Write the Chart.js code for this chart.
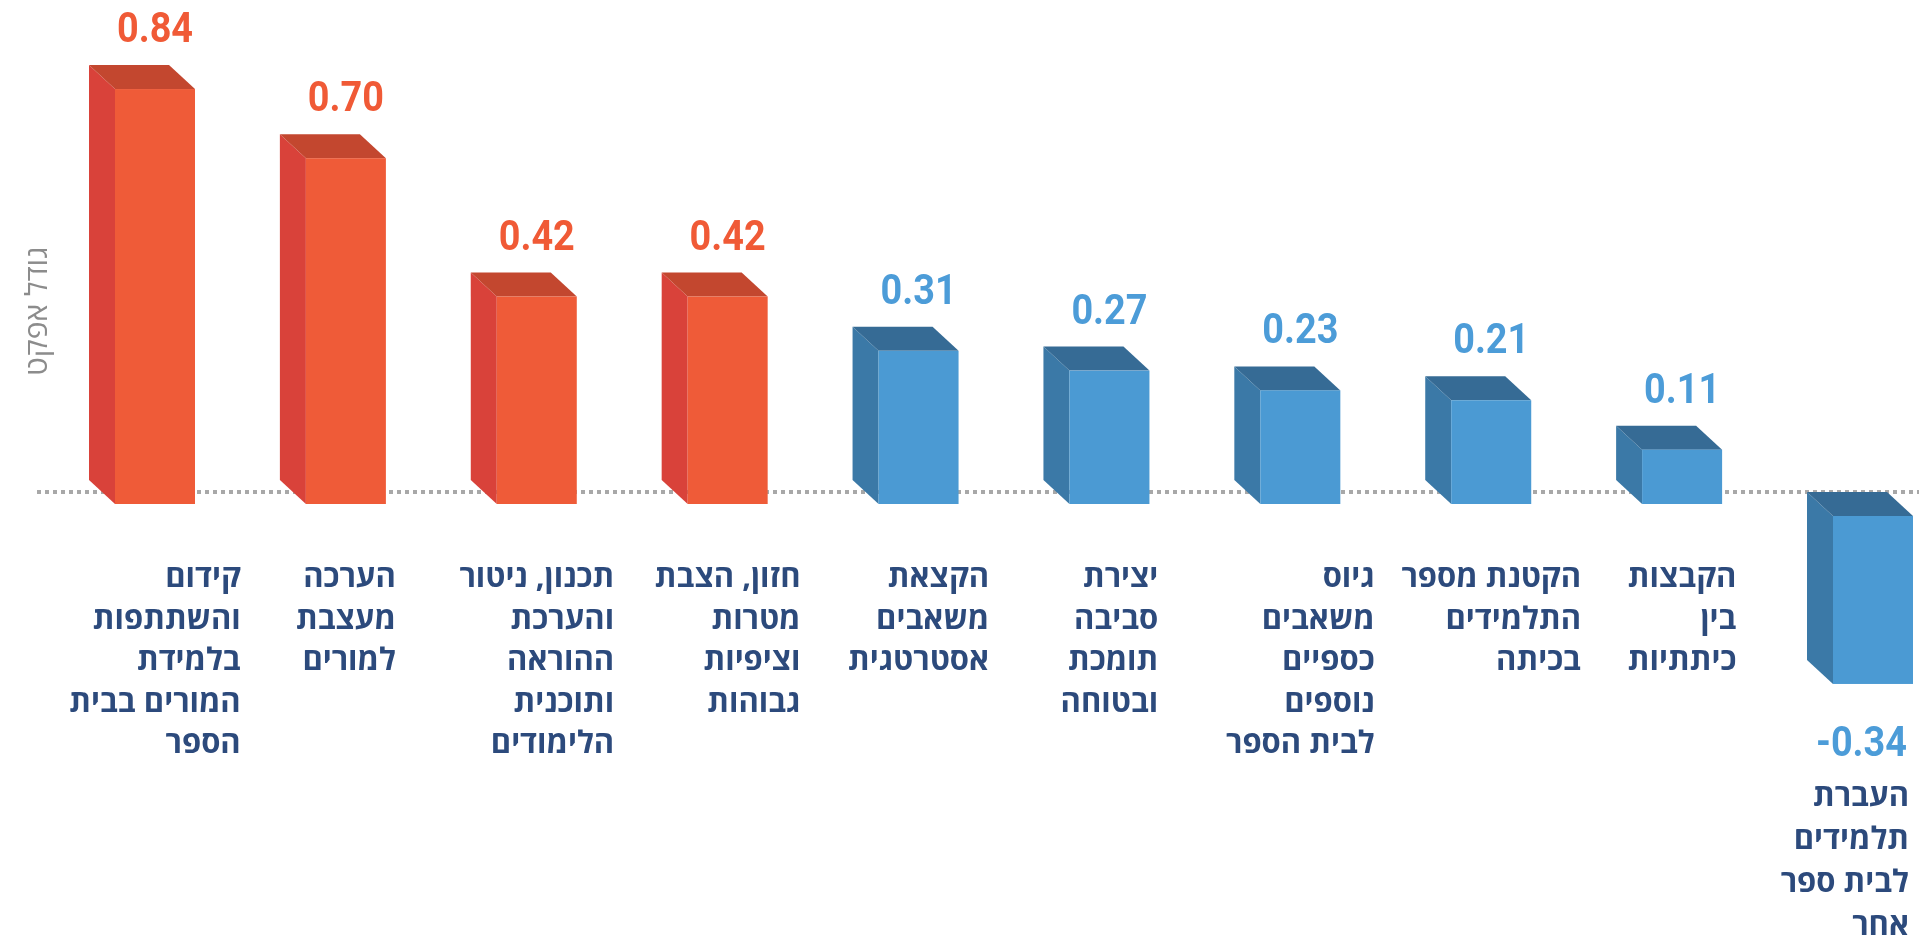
<!DOCTYPE html>
<html lang="he">
<head>
<meta charset="utf-8">
<script src="https://cdn.jsdelivr.net/npm/chart.js@4.4.1/dist/chart.umd.min.js"></script>
<style>
  html, body { margin: 0; padding: 0; background: #fff; }
  #wrap { width: 1919px; height: 944px; }
</style>
</head>
<body>
<div id="wrap"><canvas id="chart" width="1919" height="944"></canvas></div>
<script>
// data
const categories = [
  ['קידום', 'והשתתפות', 'בלמידת', 'המורים בבית', 'הספר'],
  ['הערכה', 'מעצבת', 'למורים'],
  ['תכנון, ניטור', 'והערכת', 'ההוראה', 'ותוכנית', 'הלימודים'],
  ['חזון, הצבת', 'מטרות', 'וציפיות', 'גבוהות'],
  ['הקצאת', 'משאבים', 'אסטרטגית'],
  ['יצירת', 'סביבה', 'תומכת', 'ובטוחה'],
  ['גיוס', 'משאבים', 'כספיים', 'נוספים', 'לבית הספר'],
  ['הקטנת מספר', 'התלמידים', 'בכיתה'],
  ['הקבצות', 'בין', 'כיתתיות'],
  ['העברת', 'תלמידים', 'לבית ספר', 'אחר'],
];
const effectSizes = [0.84, 0.70, 0.42, 0.42, 0.31, 0.27, 0.23, 0.21, 0.11, -0.34];
const hingePoint = 0.4;   // bars above this are drawn warm
const axisTitle = 'גודל אפקט';

// look
const DX = 26, DY = 24;
const palette = {
  warm: { front: '#EF5B38', side: '#D9423A', top: '#C3472F', text: '#F05A36' },
  cool: { front: '#4B9AD3', side: '#3B79A7', top: '#366B95', text: '#4C9CD8' },
};
const labelFont = 'bold 31px "Open Sans", "Liberation Sans", "DejaVu Sans", sans-serif';
const valueFont = 'bold 43px Roboto, "Liberation Sans", sans-serif';
const valueSquash = 0.88;
const titleFont = '30px "Open Sans", "Liberation Sans", "DejaVu Sans", sans-serif';

const tone = v => (v >= hingePoint ? palette.warm : palette.cool);

// fake 3D boxes + labels, drawn from the bar elements
const box3d = {
  id: 'box3d',
  beforeDatasetsDraw(chart) {
    const { ctx, scales } = chart;
    const zero = scales.y.getPixelForValue(0);
    ctx.save();
    ctx.strokeStyle = '#a8a8a8';
    ctx.lineWidth = 4;
    ctx.setLineDash([4, 4]);
    ctx.beginPath();
    ctx.moveTo(37, zero - DY / 2);
    ctx.lineTo(chart.width, zero - DY / 2);
    ctx.stroke();
    ctx.restore();

    // y title
    ctx.save();
    ctx.translate(38, scales.y.getPixelForValue(0.39));
    ctx.rotate(-Math.PI / 2);
    ctx.font = titleFont;
    ctx.fillStyle = '#8c8c8c';
    ctx.textAlign = 'center';
    ctx.textBaseline = 'middle';
    ctx.direction = 'rtl';
    ctx.fillText(axisTitle, 0, 0);
    ctx.restore();
  },
  beforeDatasetDraw() { return false; },
  afterDatasetsDraw(chart) {
    const { ctx, scales } = chart;
    const zero = scales.y.getPixelForValue(0);
    ctx.save();
    chart.getDatasetMeta(0).data.forEach((bar, i) => {
      const v = effectSizes[i];
      const c = tone(v);
      const { x, y, base, width } = bar.getProps(['x', 'y', 'base', 'width'], true);
      const shift = v < 0 ? DY / 2 : 0;
      const top = Math.min(y, base) + shift, bottom = Math.max(y, base) + shift;
      const l = x - width / 2, r = x + width / 2;

      ctx.fillStyle = c.side;
      ctx.beginPath();
      ctx.moveTo(l, top); ctx.lineTo(l - DX, top - DY);
      ctx.lineTo(l - DX, bottom - DY); ctx.lineTo(l, bottom);
      ctx.closePath(); ctx.fill();

      ctx.fillStyle = c.top;
      ctx.beginPath();
      ctx.moveTo(l, top); ctx.lineTo(l - DX, top - DY);
      ctx.lineTo(r - DX, top - DY); ctx.lineTo(r, top);
      ctx.closePath(); ctx.fill();

      ctx.fillStyle = c.front;
      ctx.fillRect(l, top, width, bottom - top);

      // value (slightly condensed)
      const txt = v.toFixed(2);
      ctx.font = valueFont;
      ctx.fillStyle = c.text;
      ctx.textAlign = 'center';
      ctx.textBaseline = 'alphabetic';
      ctx.direction = 'ltr';
      const tw = ctx.measureText(txt).width * valueSquash;
      const cx = Math.min(x, chart.width - 12 - tw / 2);
      const vy = v >= 0 ? top - 62 : bottom + 57;
      ctx.save();
      ctx.translate(cx, vy + 15);
      ctx.scale(valueSquash, 1);
      ctx.fillText(txt, 0, 0);
      ctx.restore();

      // category, right aligned block centred under the bar
      const lines = categories[i];
      ctx.font = labelFont;
      ctx.fillStyle = '#2C4A7C';
      ctx.direction = 'rtl';
      ctx.textAlign = 'right';
      const w = Math.max(...lines.map(s => ctx.measureText(s).width));
      const rx = Math.min(x + w / 2, chart.width - 10);
      const y0 = v >= 0 ? zero + 83 : bottom + 122;
      const step = v >= 0 ? 41.6 : 43;
      lines.forEach((s, k) => ctx.fillText(s, rx, y0 + k * step));
    });
    ctx.restore();
  },
};

new Chart(document.getElementById('chart'), {
  type: 'bar',
  data: {
    labels: categories,
    datasets: [{
      data: effectSizes,
      backgroundColor: effectSizes.map(v => tone(v).front),
      barThickness: 80,
      clip: false,
    }],
  },
  options: {
    responsive: false,
    animation: false,
    devicePixelRatio: 1,
    layout: { padding: { left: 155, right: 46, top: 10, bottom: 193 } },
    scales: {
      x: { type: 'category', offset: false, display: false },
      y: { display: false, min: -0.5, max: 1.0 },
    },
    plugins: { legend: { display: false }, tooltip: { enabled: false } },
  },
  plugins: [box3d],
});
</script>
</body>
</html>
